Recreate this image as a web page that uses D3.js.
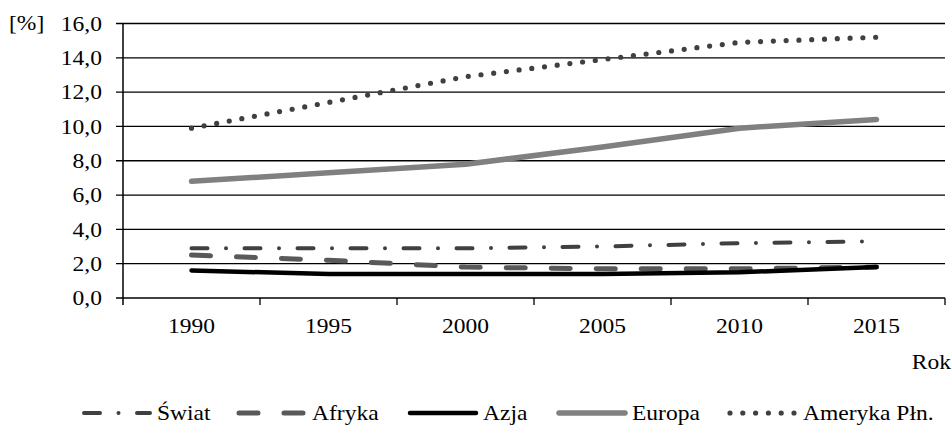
<!DOCTYPE html>
<html>
<head>
<meta charset="utf-8">
<script src="https://cdn.jsdelivr.net/npm/d3@7"></script>
<style>
  body { margin: 0; background: #fff; }
  text { font-family: "Liberation Serif", "Times New Roman", serif; fill: #000; font-size: 21px; }
</style>
</head>
<body>
<div id="chart"></div>
<script>
var years = ["1990", "1995", "2000", "2005", "2010", "2015"];
var swiat = [2.9, 2.9, 2.9, 3.0, 3.2, 3.3];
var afryka = [2.5, 2.2, 1.8, 1.7, 1.7, 1.8];
var azja = [1.6, 1.4, 1.4, 1.4, 1.5, 1.8];
var europa = [6.8, 7.3, 7.8, 8.8, 9.9, 10.4];
var ameryka = [9.9, 11.4, 12.9, 13.9, 14.9, 15.2];
var yTicks = [0, 2, 4, 6, 8, 10, 12, 14, 16];

var series = [
  {name: "Świat", values: swiat, color: "#404040", width: 4, dash: "16,18.5,0,18.5"},
  {name: "Afryka", values: afryka, color: "#595959", width: 5, dash: "19,26"},
  {name: "Azja", values: azja, color: "#000000", width: 4.5, dash: null},
  {name: "Europa", values: europa, color: "#808080", width: 5.5, dash: null},
  {name: "Ameryka Płn.", values: ameryka, color: "#404040", width: 5.2, dash: "0,12.8"}
];

var W = 952, H = 425;
var mLeft = 123, mRight = 945, mTop = 23.5, mBottom = 298;
var sx = 1.12; // reference glyphs are a bit wider than Liberation Serif

var svg = d3.select("#chart").append("svg")
    .attr("width", W)
    .attr("height", H);

var x = d3.scaleBand()
    .domain(years)
    .range([mLeft, mRight])
    .padding(0);

var y = d3.scaleLinear()
    .domain([0, 16])
    .range([mBottom, mTop]);

var fmt = function(v) { return d3.format(".1f")(v).replace(".", ","); };

function label(parent, tx, ty, str, anchor, dy) {
  return parent.append("text")
      .attr("transform", "translate(" + tx + "," + ty + ") scale(" + sx + ",1)")
      .attr("text-anchor", anchor || "start")
      .attr("dy", dy || 0)
      .text(str);
}

// gridlines + y labels
svg.append("g").selectAll("line")
  .data(yTicks).enter().append("line")
    .attr("x1", mLeft - 7).attr("x2", mRight)
    .attr("y1", function(d) { return y(d); })
    .attr("y2", function(d) { return y(d); })
    .attr("stroke", "#000").attr("stroke-width", 1.3);

var yl = svg.append("g");
yTicks.forEach(function(d) { label(yl, mLeft - 21, y(d), fmt(d), "end", "0.35em"); });

// y axis line
svg.append("line")
    .attr("x1", mLeft).attr("x2", mLeft)
    .attr("y1", mTop).attr("y2", mBottom + 7)
    .attr("stroke", "#000").attr("stroke-width", 1.5);

// x ticks at band edges
var edges = years.map(function(d) { return x(d); }).concat([x.range()[1]]);
svg.append("g").selectAll("line")
  .data(edges.slice(1)).enter().append("line")
    .attr("x1", function(d) { return d; }).attr("x2", function(d) { return d; })
    .attr("y1", mBottom).attr("y2", mBottom + 7)
    .attr("stroke", "#000").attr("stroke-width", 1.3);

var xl = svg.append("g");
years.forEach(function(d) { label(xl, x(d) + x.bandwidth() / 2, mBottom + 35, d, "middle"); });

label(svg, 9, 30, "[%]");
label(svg, 951, 369, "Rok", "end");

// lines
var line = d3.line()
    .x(function(d, i) { return x(years[i]) + x.bandwidth() / 2; })
    .y(function(d) { return y(d); });

series.forEach(function(s) {
  svg.append("path")
      .datum(s.values)
      .attr("fill", "none")
      .attr("stroke", s.color)
      .attr("stroke-width", s.width)
      .attr("stroke-linecap", "round")
      .attr("stroke-linejoin", "round")
      .attr("stroke-dasharray", s.dash)
      .attr("d", line);
});

// legend
var legX = [82, 237, 408, 557, 728];
var leg = svg.append("g");
series.forEach(function(s, i) {
  var g = leg.append("g").attr("transform", "translate(" + legX[i] + ",413)");
  g.append("line")
      .attr("x1", 2).attr("x2", 68)
      .attr("y1", 0).attr("y2", 0)
      .attr("stroke", s.color)
      .attr("stroke-width", s.width)
      .attr("stroke-linecap", "round")
      .attr("stroke-dasharray", s.dash);
  label(g, 75, 0, s.name, "start", "0.35em");
});
</script>
</body>
</html>
